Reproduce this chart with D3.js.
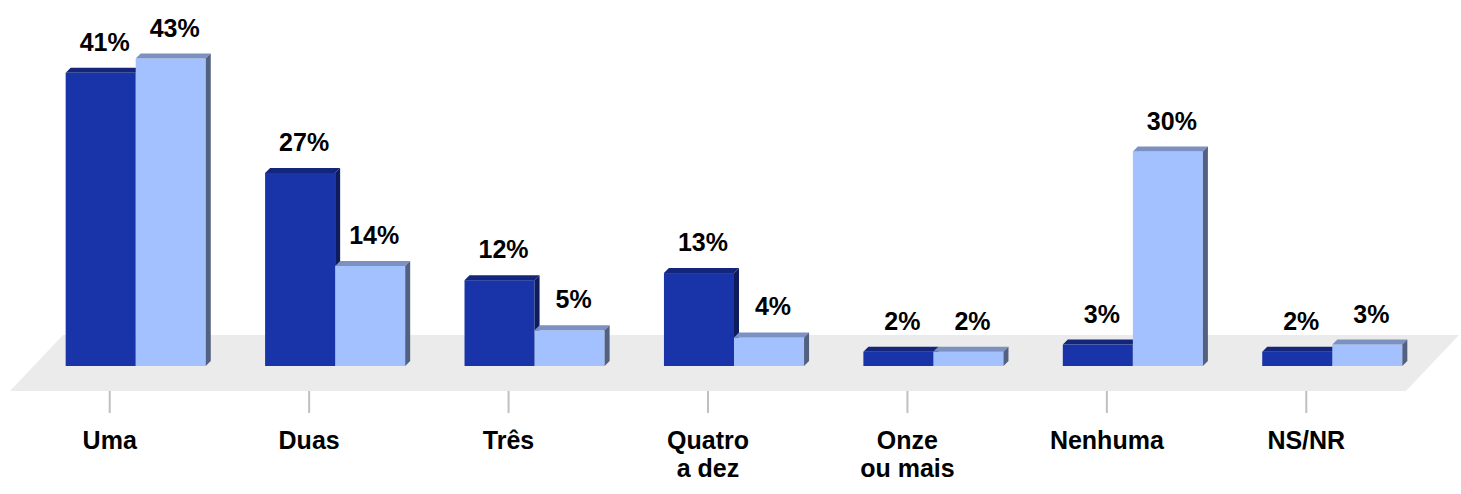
<!DOCTYPE html>
<html>
<head>
<meta charset="utf-8">
<script src="https://cdn.jsdelivr.net/npm/d3@7"></script>
<style>
  html, body { margin: 0; padding: 0; background: #ffffff; }
  svg { display: block; }
</style>
</head>
<body>
<svg id="chart" width="1461" height="494"></svg>
<script>
// ---- data ----
const categories = ["Uma", "Duas", "Três", "Quatro\na dez", "Onze\nou mais", "Nenhuma", "NS/NR"];
const seriesNames = ["Série A", "Série B"];
const seriesA = [41, 27, 12, 13, 2, 3, 2];
const seriesB = [43, 14, 5, 4, 2, 30, 3];
const valueLabelsA = ["41%", "27%", "12%", "13%", "2%", "3%", "2%"];
const valueLabelsB = ["43%", "14%", "5%", "4%", "2%", "30%", "3%"];

// ---- layout ----
const W = 1461, H = 494;
const svg = d3.select("#chart");

const floorFrontY = 391;         // front edge of floor
const floorDepth = { dx: 53, dy: -56 };
const floorFrontLeft = 10, floorFrontRight = 1406;
const barShift = { dx: 26, dy: -25 }; // from floor front to bar front plane
const baseY = floorFrontY + barShift.dy; // 366
const d3depth = 5;

const fontFam = "'Liberation Sans', Arial, Helvetica, sans-serif";
const fontSize = 25;

// scales
const xFront = d3.scaleBand().domain(categories)
  .range([floorFrontLeft, floorFrontRight]).paddingInner(0.2975).paddingOuter(0.2975 / 2);
const xBar = d3.scaleBand().domain(categories)
  .range([floorFrontLeft + barShift.dx, floorFrontRight + barShift.dx]).paddingInner(0.2975).paddingOuter(0.2975 / 2);
const xSub = d3.scaleBand().domain(seriesNames).range([0, xBar.bandwidth()]).padding(0);
const y = d3.scaleLinear().domain([0, 50]).range([baseY, baseY - 357.5]);

// floor
const floorPts = [
  [floorFrontLeft, floorFrontY],
  [floorFrontRight, floorFrontY],
  [floorFrontRight + floorDepth.dx, floorFrontY + floorDepth.dy],
  [floorFrontLeft + floorDepth.dx, floorFrontY + floorDepth.dy]
];
svg.append("polygon").attr("points", floorPts.map(p => p.join(",")).join(" ")).attr("fill", "#ebebeb");

// axis ticks + labels
const axis = d3.axisBottom(xFront).tickSize(22).tickFormat("");
const axG = svg.append("g").attr("transform", `translate(0,${floorFrontY})`).call(axis);
axG.select(".domain").remove();
axG.selectAll(".tick line").attr("stroke", "#c0c0c0").attr("stroke-width", 2);

const catLabels = svg.append("g");
categories.forEach(c => {
  const lines = c.split("\n");
  const cx = xFront(c) + xFront.bandwidth() / 2;
  const t = catLabels.append("text")
    .attr("x", cx)
    .attr("y", 449)
    .attr("text-anchor", "middle")
    .attr("font-family", fontFam)
    .attr("font-weight", "bold")
    .attr("font-size", fontSize)
    .attr("fill", "#000");
  lines.forEach((ln, i) => {
    t.append("tspan").attr("x", cx).attr("dy", i === 0 ? 0 : 27.5).text(ln);
  });
});

// bars
const styles = [
  { front: "#1834a8", top: "#14267c", side: "#0e1c5e" },
  { front: "#a3c1ff", top: "#7c91c2", side: "#536180" }
];
const series = [seriesA, seriesB];
const labels = [valueLabelsA, valueLabelsB];
const barsG = svg.append("g");
const d = d3depth;
const pts = a => a.map(p => p.join(",")).join(" ");

categories.forEach((c, ci) => {
  seriesNames.forEach((s, si) => {
    const v = series[si][ci];
    const x = xBar(c) + xSub(s);
    const w = xSub.bandwidth();
    const yt = y(v), y0 = y(0);
    const st = styles[si];
    const g = barsG.append("g");
    g.append("rect").attr("x", x).attr("y", yt).attr("width", w).attr("height", y0 - yt).attr("fill", st.front);
    g.append("polygon").attr("points", pts([[x, yt], [x + d, yt - d], [x + w + d, yt - d], [x + w, yt]])).attr("fill", st.top);
    g.append("polygon").attr("points", pts([[x + w, yt], [x + w + d, yt - d], [x + w + d, y0 - d], [x + w, y0]])).attr("fill", st.side);
  });
});

// value labels
const valG = svg.append("g");
categories.forEach((c, ci) => {
  seriesNames.forEach((s, si) => {
    const v = series[si][ci];
    const x = xBar(c) + xSub(s) + xSub.bandwidth() / 2 + d - 1;
    valG.append("text")
      .attr("x", x)
      .attr("y", y(v) - 22)
      .attr("text-anchor", "middle")
      .attr("font-family", fontFam)
      .attr("font-weight", "bold")
      .attr("font-size", fontSize)
      .attr("fill", "#000")
      .text(labels[si][ci]);
  });
});
</script>
</body>
</html>
